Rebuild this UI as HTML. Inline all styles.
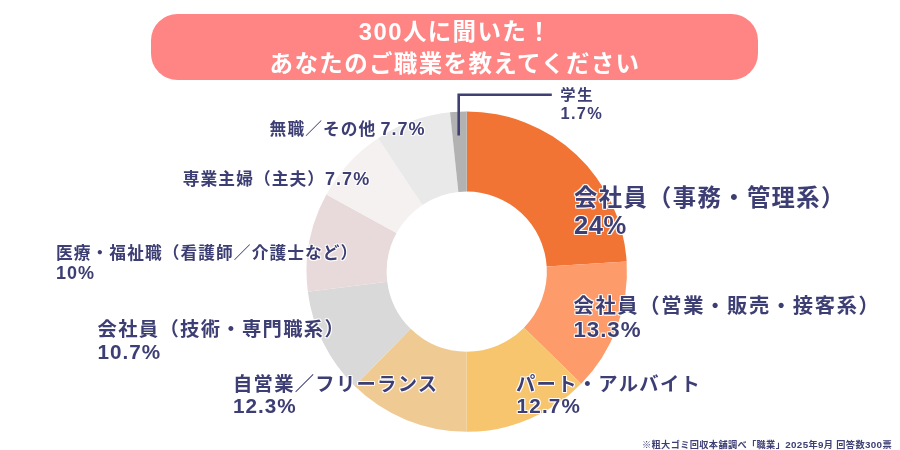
<!DOCTYPE html>
<html lang="ja">
<head>
<meta charset="utf-8">
<title>300人に聞いた！あなたのご職業を教えてください</title>
<style>
html,body{margin:0;padding:0;background:#fff;}
body{width:900px;height:450px;overflow:hidden;position:relative;font-family:"Liberation Sans","Noto Sans CJK JP",sans-serif;font-weight:bold;color:#3D3E73;}
.banner{position:absolute;left:150.5px;top:14.3px;width:607.7px;height:65.4px;border-radius:26.5px;background:#FF8585;}
.t{position:absolute;white-space:nowrap;color:#fff;font-size:23.5px;letter-spacing:1.35px;line-height:1;}
svg{position:absolute;left:0;top:0;}
.l{position:absolute;white-space:nowrap;line-height:1;text-shadow:1px 1px 0 rgba(255,255,255,.75),-1px 1px 0 rgba(255,255,255,.75),1px -1px 0 rgba(255,255,255,.75),-1px -1px 0 rgba(255,255,255,.75),0 1px 0 rgba(255,255,255,.75),0 -1px 0 rgba(255,255,255,.75),1px 0 0 rgba(255,255,255,.75),-1px 0 0 rgba(255,255,255,.75);}
span.d{font-size:18px;letter-spacing:1px;}
span.s{font-size:9.8px;}
span.td{font-size:23.8px;letter-spacing:1.5px;}
</style>
</head>
<body>
<div class="banner"></div>
<div class="t" id="t1" style="left:358.7px;top:19.6px;"><span class="td">300</span>人に聞いた！</div>
<div class="t" id="t2" style="left:269.6px;top:53.2px;">あなたのご職業を教えてください</div>
<svg width="900" height="450" viewBox="0 0 900 450">
<path d="M466.75 111.40A160.2 160.2 0 0 1 626.63 261.54L546.69 266.57A80.1 80.1 0 0 0 466.75 191.50Z" fill="#F17435"/>
<path d="M626.63 261.54A160.2 160.2 0 0 1 581.21 383.69L523.98 327.64A80.1 80.1 0 0 0 546.69 266.57Z" fill="#FE9B6A"/>
<path d="M581.21 383.69A160.2 160.2 0 0 1 466.75 431.80L466.75 351.70A80.1 80.1 0 0 0 523.98 327.64Z" fill="#F7C56D"/>
<path d="M466.75 431.80A160.2 160.2 0 0 1 354.66 386.06L410.71 328.83A80.1 80.1 0 0 0 466.75 351.70Z" fill="#EFCB93"/>
<path d="M354.66 386.06A160.2 160.2 0 0 1 307.81 291.68L387.28 281.64A80.1 80.1 0 0 0 410.71 328.83Z" fill="#D9D9D9"/>
<path d="M307.81 291.68A160.2 160.2 0 0 1 326.37 194.42L396.56 233.01A80.1 80.1 0 0 0 387.28 281.64Z" fill="#E8DADA"/>
<path d="M326.37 194.42A160.2 160.2 0 0 1 378.10 138.17L422.42 204.88A80.1 80.1 0 0 0 396.56 233.01Z" fill="#F6F1F1"/>
<path d="M378.10 138.17A160.2 160.2 0 0 1 450.00 112.28L458.38 191.94A80.1 80.1 0 0 0 422.42 204.88Z" fill="#E9E9E9"/>
<path d="M450.00 112.28A160.2 160.2 0 0 1 466.75 111.40L466.75 191.50A80.1 80.1 0 0 0 458.38 191.94Z" fill="#B2B2B2"/>
<path d="M458.7 135.5V94.8H551.8" fill="none" stroke="#403F73" stroke-width="2.6"/>
</svg>
<div class="l" id="a1" style="left:574px;top:187px;font-size:23.3px;letter-spacing:1.4px;">会社員（事務・管理系）</div>
<div class="l d" id="a2" style="left:574px;top:213px;font-size:25.6px;letter-spacing:.5px;">24%</div>
<div class="l" id="b1" style="left:573.5px;top:295.5px;font-size:20.3px;letter-spacing:1.65px;">会社員（営業・販売・接客系）</div>
<div class="l d" id="b2" style="left:573.5px;top:318.6px;font-size:22.3px;letter-spacing:.95px;">13.3%</div>
<div class="l" id="c1" style="left:516px;top:375px;font-size:19.3px;letter-spacing:1.3px;">パート・アルバイト</div>
<div class="l d" id="c2" style="left:516.5px;top:396px;font-size:20.7px;letter-spacing:1.2px;">12.7%</div>
<div class="l" id="d1" style="left:233px;top:375px;font-size:19.3px;letter-spacing:1.3px;">自営業／フリーランス</div>
<div class="l d" id="d2" style="left:233px;top:396px;font-size:20.7px;letter-spacing:1.0px;">12.3%</div>
<div class="l" id="e1" style="left:97.5px;top:319.5px;font-size:19.3px;letter-spacing:1.35px;">会社員（技術・専門職系）</div>
<div class="l d" id="e2" style="left:97.5px;top:342px;font-size:20.7px;letter-spacing:1.0px;">10.7%</div>
<div class="l" id="f1" style="left:56px;top:245.5px;font-size:16.7px;letter-spacing:1.1px;">医療・福祉職（看護師／介護士など）</div>
<div class="l d" id="f2" style="left:56px;top:263.7px;font-size:18px;letter-spacing:1px;">10%</div>
<div class="l" id="g1" style="left:182.8px;top:170px;font-size:16.7px;letter-spacing:1.1px;">専業主婦（主夫）<span class="d">7.7%</span></div>
<div class="l" id="h1" style="left:269.6px;top:119.7px;font-size:16.7px;letter-spacing:1.1px;">無職／その他 <span class="d" style="margin-left:-1.6px;">7.7%</span></div>
<div class="l" id="i1" style="left:560.3px;top:86.5px;font-size:15.3px;letter-spacing:1.6px;">学生</div>
<div class="l d" id="i2" style="left:560.6px;top:105px;font-size:16.4px;letter-spacing:1.3px;">1.7%</div>
<div class="l" id="n1" style="left:642px;top:439.5px;font-size:9.2px;letter-spacing:.36px;text-shadow:none;">※粗大ゴミ回収本舗調べ「職業」<span class="s">2025</span>年<span class="s">9</span>月 回答数<span class="s">300</span>票</div>
</body>
</html>
